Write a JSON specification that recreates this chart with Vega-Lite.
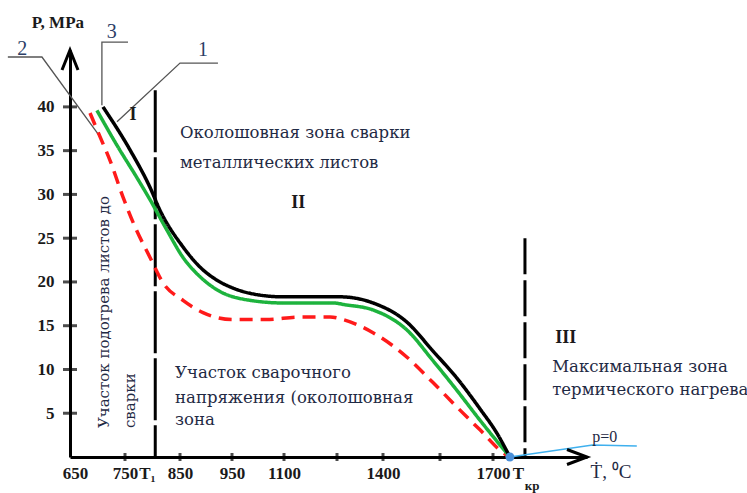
{
  "$schema": "https://vega.github.io/schema/vega-lite/v6.json",
  "width": 517,
  "height": 407,
  "autosize": {"type": "none"},
  "padding": {"left": 70, "top": 50, "right": 160, "bottom": 36},
  "background": "white",
  "config": {"view": {"stroke": null}},
  "datasets": {
    "curves": [
      {"curve": "2", "T": 686.4, "P": 39.3}, {"curve": "2", "T": 704.5, "P": 36.6}, {"curve": "2", "T": 722.7, "P": 33.9}, {"curve": "2", "T": 746.4, "P": 29.7}, {"curve": "2", "T": 768.2, "P": 26.3}, {"curve": "2", "T": 795.5, "P": 22.8}, {"curve": "2", "T": 819.1, "P": 19.9}, {"curve": "2", "T": 855.8, "P": 17.9}, {"curve": "2", "T": 894.2, "P": 16.5}, {"curve": "2", "T": 952.9, "P": 15.7}, {"curve": "2", "T": 1048.1, "P": 15.7}, {"curve": "2", "T": 1145.3, "P": 16.0}, {"curve": "2", "T": 1230.2, "P": 16.0}, {"curve": "2", "T": 1269.6, "P": 15.7}, {"curve": "2", "T": 1367.4, "P": 14.2}, {"curve": "2", "T": 1463.2, "P": 11.4}, {"curve": "2", "T": 1531.6, "P": 8.5}, {"curve": "2", "T": 1598.1, "P": 5.7}, {"curve": "2", "T": 1663.2, "P": 3.1}, {"curve": "2", "T": 1721.3, "P": 0.5}, {"curve": "2", "T": 1736, "P": 0},
      {"curve": "3", "T": 699, "P": 39.6}, {"curve": "3", "T": 735.5, "P": 35.6}, {"curve": "3", "T": 771.8, "P": 31.9}, {"curve": "3", "T": 795.5, "P": 29.4}, {"curve": "3", "T": 826.4, "P": 25.9}, {"curve": "3", "T": 855.8, "P": 22.8}, {"curve": "3", "T": 888.5, "P": 20.6}, {"curve": "3", "T": 921.2, "P": 19.1}, {"curve": "3", "T": 1001.9, "P": 17.9}, {"curve": "3", "T": 1097, "P": 17.6}, {"curve": "3", "T": 1238.7, "P": 17.6}, {"curve": "3", "T": 1276, "P": 17.4}, {"curve": "3", "T": 1367.4, "P": 16.8}, {"curve": "3", "T": 1463.2, "P": 14.5}, {"curve": "3", "T": 1531.6, "P": 11.0}, {"curve": "3", "T": 1598.1, "P": 7.6}, {"curve": "3", "T": 1663.2, "P": 4.2}, {"curve": "3", "T": 1736, "P": 0},
      {"curve": "1", "T": 710, "P": 40.0}, {"curve": "1", "T": 759, "P": 35.1}, {"curve": "1", "T": 795.5, "P": 30.8}, {"curve": "1", "T": 813.6, "P": 28.2}, {"curve": "1", "T": 855.8, "P": 24.0}, {"curve": "1", "T": 888.5, "P": 21.7}, {"curve": "1", "T": 921.2, "P": 20.2}, {"curve": "1", "T": 952.9, "P": 19.3}, {"curve": "1", "T": 1001.9, "P": 18.7}, {"curve": "1", "T": 1097, "P": 18.3}, {"curve": "1", "T": 1193.4, "P": 18.3}, {"curve": "1", "T": 1259.8, "P": 18.3}, {"curve": "1", "T": 1367.4, "P": 17.6}, {"curve": "1", "T": 1463.2, "P": 15.4}, {"curve": "1", "T": 1531.6, "P": 12.1}, {"curve": "1", "T": 1598.1, "P": 9.0}, {"curve": "1", "T": 1663.2, "P": 5.5}, {"curve": "1", "T": 1708.5, "P": 2.7}, {"curve": "1", "T": 1736, "P": 0}
    ],
    "vlines": [
      {"id": "T1", "T": 805, "P": 41.9, "P2": 0},
      {"id": "Tkr", "T": 1768, "P": 25, "P2": 0}
    ],
    "leaders": [
      {"id": "2", "o": 1, "T": 537, "P": 45.7}, {"id": "2", "o": 2, "T": 599, "P": 45.7}, {"id": "2", "o": 3, "T": 704.5, "P": 36.6},
      {"id": "3", "o": 1, "T": 755.5, "P": 47.4}, {"id": "3", "o": 2, "T": 708, "P": 47.4}, {"id": "3", "o": 3, "T": 708, "P": 40.2},
      {"id": "1", "o": 1, "T": 923, "P": 45.0}, {"id": "1", "o": 2, "T": 850, "P": 45.0}, {"id": "1", "o": 3, "T": 735.5, "P": 38.3}
    ],
    "leaderLabels": [
      {"label": "2", "T": 563, "P": 46.6},
      {"label": "3", "T": 726, "P": 48.6},
      {"label": "1", "T": 894, "P": 46.5}
    ],
    "blue": [{"T": 1736, "P": 0}, {"T": 1912, "P": 1.37}, {"T": 2006, "P": 1.26}],
    "dot": [{"T": 1736, "P": 0}],
    "yticks": [{"T": 650, "P": 5}, {"T": 650, "P": 10}, {"T": 650, "P": 15}, {"T": 650, "P": 20}, {"T": 650, "P": 25}, {"T": 650, "P": 30}, {"T": 650, "P": 35}, {"T": 650, "P": 40}],
    "xticks": [{"T": 750, "P": 0}, {"T": 850, "P": 0}, {"T": 950, "P": 0}, {"T": 1100, "P": 0}, {"T": 1250, "P": 0}, {"T": 1400, "P": 0}, {"T": 1550, "P": 0}, {"T": 1700, "P": 0}],
    "xarrow": [{"T": 1900, "P": 0}],
    "yarrow": [{"T": 650, "P": 46.5}],
    "regionText": [
      {"label": "Околошовная зона  сварки", "T": 850, "P": 37.0},
      {"label": "металлических листов", "T": 850, "P": 33.6},
      {"label": "Участок сварочного", "T": 841, "P": 9.6},
      {"label": "напряжения (околошовная", "T": 841, "P": 6.7},
      {"label": "зона", "T": 841, "P": 4.2},
      {"label": "Максимальная зона", "T": 1826, "P": 10.3},
      {"label": "термического нагрева", "T": 1826, "P": 7.65}
    ],
    "roman": [
      {"label": "I", "T": 764.5, "P": 39.1},
      {"label": "II", "T": 1140, "P": 29.0},
      {"label": "III", "T": 1855, "P": 13.6}
    ],
    "vertText": [
      {"label": "Участок подогрева листов до", "T": 711.8, "P": 3.3},
      {"label": "сварки", "T": 759.1, "P": 3.3}
    ],
    "ptitle": [{"label": "P, MPa", "T": 628, "P": 49.6}],
    "xtitle": [{"label": "Ṫ, ⁰C", "T": 1951, "P": -1.7}],
    "p0": [{"label": "p=0", "T": 1938, "P": 2.3}],
    "kr": [{"label": "кр", "T": 1783, "P": -3.3}]
  },
  "encoding": {
    "x": {
      "field": "T", "type": "quantitative",
      "scale": {"domain": [650, 750, 850, 950, 1100, 1250, 1400, 1550, 1700, 1900], "range": [0, 55, 110, 162, 214, 267, 313, 370, 423, 517], "nice": false, "zero": false},
      "axis": {
        "values": [659, 750, 790, 850, 950, 1100, 1400, 1700, 1753],
        "labelExpr": "datum.value == 659 ? '650' : datum.value == 790 ? 'T₁' : datum.value == 1753 ? 'T' : format(datum.value, 'd')",
        "title": null, "grid": false, "ticks": false, "tickSize": 0,
        "domainColor": "black", "domainWidth": 3,
        "labelFont": "Liberation Serif", "labelFontWeight": "bold", "labelFontSize": 17, "labelColor": "#1a1a1a",
        "labelPadding": 8, "labelDx": 4, "labelFlush": false, "labelOverlap": false
      }
    },
    "y": {
      "field": "P", "type": "quantitative",
      "scale": {"domain": [0, 46.5], "nice": false, "zero": true},
      "axis": {
        "values": [5, 10, 15, 20, 25, 30, 35, 40],
        "title": null, "grid": false, "ticks": false, "tickSize": 0,
        "domainColor": "black", "domainWidth": 3,
        "labelFont": "Liberation Serif", "labelFontWeight": "bold", "labelFontSize": 17, "labelColor": "#1a1a1a",
        "labelPadding": 16
      }
    }
  },
  "layer": [
    {
      "data": {"name": "yticks"},
      "mark": {"type": "tick", "orient": "horizontal", "size": 14, "thickness": 3, "color": "black"}
    },
    {
      "data": {"name": "xticks"},
      "mark": {"type": "tick", "orient": "vertical", "size": 8, "thickness": 3, "color": "black"}
    },
    {
      "data": {"name": "vlines"},
      "transform": [{"filter": "datum.id == 'T1'"}],
      "mark": {"type": "rule", "color": "black", "strokeWidth": 3, "strokeDash": [62, 5]},
      "encoding": {"y2": {"field": "P2"}}
    },
    {
      "data": {"name": "vlines"},
      "transform": [{"filter": "datum.id == 'Tkr'"}],
      "mark": {"type": "rule", "color": "black", "strokeWidth": 3, "strokeDash": [36, 6]},
      "encoding": {"y2": {"field": "P2"}}
    },
    {
      "data": {"name": "leaders"},
      "mark": {"type": "line", "color": "#555555", "strokeWidth": 1.3},
      "encoding": {"detail": {"field": "id"}, "order": {"field": "o", "type": "quantitative"}}
    },
    {
      "data": {"name": "curves"},
      "mark": {"type": "line", "strokeWidth": 3.5, "interpolate": "monotone"},
      "encoding": {
        "detail": {"field": "curve"},
        "color": {"field": "curve", "type": "nominal", "scale": {"domain": ["1", "2", "3"], "range": ["#000000", "#ff1a1a", "#1db33d"]}, "legend": null},
        "strokeDash": {"field": "curve", "type": "nominal", "scale": {"domain": ["1", "2", "3"], "range": [[1, 0], [13, 8], [1, 0]]}, "legend": null}
      }
    },
    {
      "data": {"name": "blue"},
      "mark": {"type": "line", "color": "#3fb0ee", "strokeWidth": 1.6}
    },
    {
      "data": {"name": "dot"},
      "mark": {"type": "point", "filled": true, "color": "#4a8fd8", "size": 80, "opacity": 1}
    },
    {
      "data": {"name": "xarrow"},
      "mark": {"type": "point", "shape": "M-2,-0.75L0,0L-2,0.75", "size": 400, "filled": false, "color": "black", "strokeWidth": 3, "opacity": 1}
    },
    {
      "data": {"name": "yarrow"},
      "mark": {"type": "point", "shape": "M-0.8,2L0,0L0.8,2", "size": 400, "filled": false, "color": "black", "strokeWidth": 3, "opacity": 1}
    },
    {
      "data": {"name": "regionText"},
      "mark": {"type": "text", "align": "left", "baseline": "middle", "font": "DejaVu Serif", "fontSize": 16.5, "color": "#1f2a44"},
      "encoding": {"text": {"field": "label"}}
    },
    {
      "data": {"name": "roman"},
      "mark": {"type": "text", "align": "center", "baseline": "middle", "font": "Liberation Serif", "fontWeight": "bold", "fontSize": 18, "color": "#1a1a1a"},
      "encoding": {"text": {"field": "label"}}
    },
    {
      "data": {"name": "vertText"},
      "mark": {"type": "text", "align": "left", "baseline": "middle", "angle": 270, "font": "DejaVu Serif", "fontSize": 15, "color": "#1f2a44"},
      "encoding": {"text": {"field": "label"}}
    },
    {
      "data": {"name": "leaderLabels"},
      "mark": {"type": "text", "align": "center", "baseline": "middle", "font": "Liberation Serif", "fontSize": 20, "color": "#2c3e66"},
      "encoding": {"text": {"field": "label"}}
    },
    {
      "data": {"name": "ptitle"},
      "mark": {"type": "text", "align": "center", "baseline": "middle", "font": "Liberation Serif", "fontWeight": "bold", "fontSize": 17, "color": "#1a1a1a"},
      "encoding": {"text": {"field": "label"}}
    },
    {
      "data": {"name": "xtitle"},
      "mark": {"type": "text", "align": "center", "baseline": "middle", "font": "Liberation Serif", "fontSize": 19, "color": "#1f2a44"},
      "encoding": {"text": {"field": "label"}}
    },
    {
      "data": {"name": "p0"},
      "mark": {"type": "text", "align": "center", "baseline": "middle", "font": "Liberation Serif", "fontSize": 16, "color": "#1f2a44"},
      "encoding": {"text": {"field": "label"}}
    },
    {
      "data": {"name": "kr"},
      "mark": {"type": "text", "align": "center", "baseline": "middle", "font": "Liberation Serif", "fontWeight": "bold", "fontSize": 13, "color": "#1a1a1a"},
      "encoding": {"text": {"field": "label"}}
    }
  ]
}
